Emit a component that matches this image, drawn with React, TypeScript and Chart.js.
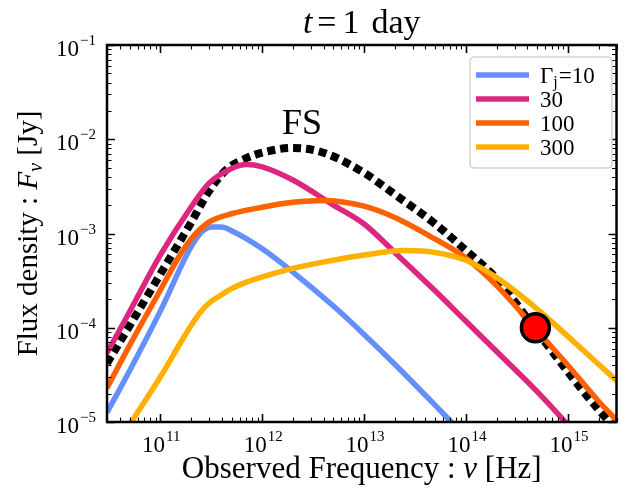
import { useEffect, useRef } from 'react';
import { Chart, registerables } from 'chart.js';

Chart.register(...registerables);

// ---- data (Hz, Jy) ----
const nuBlue = [3e10, 5e10, 1e11, 2e11, 2.5e11, 2.8e11, 3.2e11, 4e11, 5e11, 1e12, 2e12, 5e12, 1e13, 2e13, 5e13, 1e14];
const fluxBlue = [1.26e-5, 3.5e-5, 1.5e-4, 7.2e-4, 1.02e-3, 1.12e-3, 1.17e-3, 1.17e-3, 1.07e-3, 6.9e-4, 3.9e-4, 1.7e-4, 8.5e-5, 4.1e-5, 1.5e-5, 6.9e-6];

const nuMagenta = [3e10, 5e10, 1e11, 2e11, 3e11, 5e11, 7e11, 1e12, 2e12, 5e12, 1e13, 2e13, 5e13, 1e14, 2e14, 5e14, 1e15, 1.5e15];
const fluxMagenta = [5.4e-5, 1.48e-4, 5.9e-4, 1.9e-3, 3.4e-3, 4.9e-3, 5.4e-3, 5.1e-3, 3.7e-3, 2.0e-3, 1.26e-3, 6.3e-4, 2.45e-4, 1.17e-4, 5.6e-5, 2.1e-5, 9.3e-6, 5.6e-6];

const nuOrange = [3e10, 5e10, 1e11, 1.5e11, 2e11, 3e11, 5e11, 1e12, 2e12, 4e12, 1e13, 2e13, 5e13, 1e14, 2e14, 5e14, 1e15, 2e15, 3e15];
const fluxOrange = [2.3e-5, 6.5e-5, 2.5e-4, 5.5e-4, 8.7e-4, 1.32e-3, 1.62e-3, 1.9e-3, 2.14e-3, 2.24e-3, 1.95e-3, 1.48e-3, 8.7e-4, 5.5e-4, 2.8e-4, 9.3e-5, 4.0e-5, 1.66e-5, 1.05e-5];

const nuYellow = [4e10, 5e10, 1e11, 1.6e11, 2e11, 2.5e11, 3e11, 4e11, 5e11, 7e11, 1e12, 2e12, 5e12, 1e13, 2.5e13, 5e13, 1e14, 2e14, 5e14, 1e15, 2e15, 3e15];
const fluxYellow = [6.3e-6, 9.3e-6, 3.0e-5, 7.1e-5, 1.05e-4, 1.48e-4, 1.82e-4, 2.24e-4, 2.6e-4, 3.05e-4, 3.47e-4, 4.27e-4, 5.2e-4, 5.9e-4, 6.6e-4, 6.3e-4, 5.2e-4, 3.4e-4, 1.58e-4, 8.1e-5, 4.1e-5, 2.75e-5];

const nuFS = [3e10, 5e10, 1e11, 2e11, 3e11, 4.5e11, 7e11, 1e12, 2e12, 4e12, 1e13, 2e13, 5e13, 1e14, 2e14, 5e14, 1e15, 2e15, 3e15];
const fluxFS = [4.2e-5, 1.05e-4, 3.7e-4, 1.3e-3, 2.8e-3, 4.8e-3, 6.3e-3, 7.2e-3, 8.1e-3, 7.2e-3, 4.4e-3, 2.6e-3, 1.26e-3, 6.6e-4, 3.3e-4, 9.1e-5, 3.4e-5, 1.35e-5, 8.3e-6];

const markerNu = [4.8e14];
const markerFlux = [1.0e-4];

const seriesLabels = ['10', '30', '100', '300'];
const seriesColors = ['#648FFF', '#DC267F', '#FE6100', '#FFB000'];
const xTickExps = [11, 12, 13, 14, 15];
const yTickExps = [-5, -4, -3, -2, -1];
const xRange = [3e10, 3e15];
const yRange = [1e-5, 1e-1];

const SERIF = '"Liberation Serif", "Times New Roman", serif';

type Run = { text: string; size: number; italic?: boolean; dy?: number; gap?: number };

function runsWidth(ctx: CanvasRenderingContext2D, runs: Run[]) {
  let w = 0;
  for (const r of runs) {
    ctx.font = `${r.italic ? 'italic ' : ''}${r.size}px ${SERIF}`;
    w += ctx.measureText(r.text).width + (r.gap || 0);
  }
  return w;
}

function drawRuns(ctx: CanvasRenderingContext2D, runs: Run[], x: number, y: number, align: 'left' | 'center' | 'right') {
  const w = runsWidth(ctx, runs);
  let cx = align === 'left' ? x : align === 'center' ? x - w / 2 : x - w;
  ctx.textBaseline = 'alphabetic';
  ctx.textAlign = 'left';
  for (const r of runs) {
    ctx.font = `${r.italic ? 'italic ' : ''}${r.size}px ${SERIF}`;
    ctx.fillText(r.text, cx, y + (r.dy || 0));
    cx += ctx.measureText(r.text).width + (r.gap || 0);
  }
}

function expText(e: number) {
  return e < 0 ? '\u2212' + String(-e) : String(e);
}

const decorPlugin = {
  id: 'decor',
  afterDraw(chart: any) {
    const ctx: CanvasRenderingContext2D = chart.ctx;
    const { left, right, top, bottom } = chart.chartArea;
    const xs = chart.scales.x;
    const ys = chart.scales.y;
    ctx.save();
    ctx.fillStyle = '#000';
    ctx.strokeStyle = '#000';

    // ticks (inward, all sides)
    const lx0 = Math.floor(Math.log10(xRange[0]));
    const lx1 = Math.ceil(Math.log10(xRange[1]));
    for (let d = lx0; d <= lx1; d++) {
      for (let m = 1; m <= 9; m++) {
        const v = m * Math.pow(10, d);
        if (v < xRange[0] * 0.999 || v > xRange[1] * 1.001) continue;
        const px = Math.round(xs.getPixelForValue(v)) + 0.5;
        const len = m === 1 ? 8 : 4.5;
        ctx.lineWidth = m === 1 ? 1.6 : 1.1;
        ctx.beginPath();
        ctx.moveTo(px, bottom); ctx.lineTo(px, bottom - len);
        ctx.moveTo(px, top); ctx.lineTo(px, top + len);
        ctx.stroke();
      }
    }
    const ly0 = Math.floor(Math.log10(yRange[0]));
    const ly1 = Math.ceil(Math.log10(yRange[1]));
    for (let d = ly0; d <= ly1; d++) {
      for (let m = 1; m <= 9; m++) {
        const v = m * Math.pow(10, d);
        if (v < yRange[0] * 0.999 || v > yRange[1] * 1.001) continue;
        const py = Math.round(ys.getPixelForValue(v)) + 0.5;
        const len = m === 1 ? 8 : 4.5;
        ctx.lineWidth = m === 1 ? 1.6 : 1.1;
        ctx.beginPath();
        ctx.moveTo(left, py); ctx.lineTo(left + len, py);
        ctx.moveTo(right, py); ctx.lineTo(right - len, py);
        ctx.stroke();
      }
    }

    // frame
    ctx.lineWidth = 2.5;
    ctx.strokeRect(left, top, right - left, bottom - top);

    // x tick labels
    for (const e of xTickExps) {
      const px = xs.getPixelForValue(Math.pow(10, e));
      const runs: Run[] = [
        { text: '10', size: 23, gap: 1 },
        { text: expText(e), size: 15, dy: -11 },
      ];
      const w = runsWidth(ctx, runs);
      drawRuns(ctx, runs, px - w / 2 + 1, 452, 'left');
    }
    // y tick labels
    for (const e of yTickExps) {
      const py = ys.getPixelForValue(Math.pow(10, e));
      const runs: Run[] = [
        { text: '10', size: 23, gap: 1 },
        { text: expText(e), size: 15, dy: -11 },
      ];
      drawRuns(ctx, runs, 96, py + 11, 'right');
    }

    // axis titles
    const cxMid = (left + right) / 2;
    drawRuns(ctx, [
      { text: 'Observed Frequency : ', size: 31 },
      { text: '\u03bd', size: 31, italic: true },
      { text: ' [Hz]', size: 31 },
    ], cxMid, 478, 'center');

    ctx.save();
    ctx.translate(37, (top + bottom) / 2);
    ctx.rotate(-Math.PI / 2);
    drawRuns(ctx, [
      { text: 'Flux density : ', size: 29 },
      { text: 'F', size: 29, italic: true },
      { text: '\u03bd', size: 20, italic: true, dy: 5 },
      { text: ' [Jy]', size: 29 },
    ], 0, 0, 'center');
    ctx.restore();

    // title
    drawRuns(ctx, [
      { text: 't', size: 34, italic: true, gap: 5 },
      { text: '=', size: 34, gap: 6 },
      { text: '1', size: 34, gap: 12 },
      { text: 'day', size: 34 },
    ], cxMid, 33, 'center');

    // FS label
    drawRuns(ctx, [{ text: 'FS', size: 36 }], 302, 134, 'center');

    // legend
    const bx = 470, by = 57, bw = 142, bh = 111, r = 5;
    ctx.beginPath();
    ctx.moveTo(bx + r, by);
    ctx.lineTo(bx + bw - r, by);
    ctx.quadraticCurveTo(bx + bw, by, bx + bw, by + r);
    ctx.lineTo(bx + bw, by + bh - r);
    ctx.quadraticCurveTo(bx + bw, by + bh, bx + bw - r, by + bh);
    ctx.lineTo(bx + r, by + bh);
    ctx.quadraticCurveTo(bx, by + bh, bx, by + bh - r);
    ctx.lineTo(bx, by + r);
    ctx.quadraticCurveTo(bx, by, bx + r, by);
    ctx.closePath();
    ctx.fillStyle = 'rgba(255,255,255,0.85)';
    ctx.fill();
    ctx.strokeStyle = '#d3d3d3';
    ctx.lineWidth = 1.5;
    ctx.stroke();
    ctx.fillStyle = '#000';
    const rowY = [75, 99, 123, 147];
    seriesLabels.forEach((lab, i) => {
      const y = rowY[i];
      ctx.strokeStyle = seriesColors[i];
      ctx.lineWidth = 5.5;
      ctx.lineCap = 'butt';
      ctx.beginPath();
      ctx.moveTo(476, y);
      ctx.lineTo(529, y);
      ctx.stroke();
      const runs: Run[] = i === 0
        ? [{ text: '\u0393', size: 23 }, { text: 'j', size: 16, dy: 4, gap: 1 }, { text: '=' + lab, size: 23 }]
        : [{ text: lab, size: 23 }];
      drawRuns(ctx, runs, 540, y + 8, 'left');
    });

    ctx.restore();
  },
};

function pts(xs: number[], ys: number[]) {
  return xs.map((x, i) => ({ x, y: ys[i] }));
}

export default function App() {
  const ref = useRef<HTMLCanvasElement | null>(null);
  useEffect(() => {
    document.body.style.margin = '0';
    const canvas = ref.current!;
    const lineDs = (label: string, xs: number[], ys: number[], color: string, order: number) => ({
      label,
      data: pts(xs, ys),
      borderColor: color,
      backgroundColor: color,
      borderWidth: 5.5,
      pointRadius: 0,
      showLine: true,
      fill: false,
      cubicInterpolationMode: 'monotone' as const,
      order,
    });
    const chart = new Chart(canvas, {
      type: 'scatter',
      data: {
        datasets: [
          {
            label: 'FS',
            data: pts(nuFS, fluxFS),
            borderColor: '#000',
            backgroundColor: '#000',
            borderWidth: 8,
            borderDash: [8, 5],
            borderCapStyle: 'butt',
            pointRadius: 0,
            showLine: true,
            fill: false,
            cubicInterpolationMode: 'monotone',
            order: 10,
          } as any,
          lineDs(seriesLabels[0], nuBlue, fluxBlue, seriesColors[0], 5),
          lineDs(seriesLabels[1], nuMagenta, fluxMagenta, seriesColors[1], 4),
          lineDs(seriesLabels[2], nuOrange, fluxOrange, seriesColors[2], 3),
          lineDs(seriesLabels[3], nuYellow, fluxYellow, seriesColors[3], 2),
          {
            label: 'obs',
            data: pts(markerNu, markerFlux),
            backgroundColor: '#ff0000',
            borderColor: '#000',
            pointRadius: 14,
            pointBorderWidth: 3.5,
            showLine: false,
            order: 0,
          } as any,
        ],
      },
      options: {
        responsive: false,
        animation: false,
        layout: { padding: { left: 107, right: 9, top: 45, bottom: 77 } },
        scales: {
          x: { type: 'logarithmic', min: xRange[0], max: xRange[1], display: false },
          y: { type: 'logarithmic', min: yRange[0], max: yRange[1], display: false },
        },
        plugins: {
          legend: { display: false },
          tooltip: { enabled: false },
          title: { display: false },
        },
        events: [],
      },
      plugins: [decorPlugin],
    });
    return () => chart.destroy();
  }, []);
  return (
    <div style={{ width: 634, height: 499 }}>
      <canvas ref={ref} width={634} height={499} style={{ display: 'block' }} />
    </div>
  );
}
